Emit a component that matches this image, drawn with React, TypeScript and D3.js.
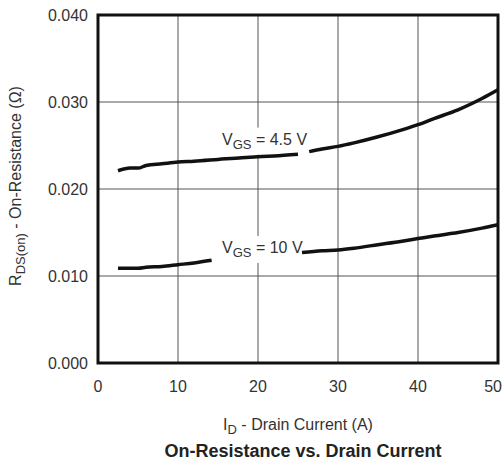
import React from "react";
import * as d3 from "d3";

const xTicks = [0, 10, 20, 30, 40, 50];
const yTicks = [0, 0.01, 0.02, 0.03, 0.04];
const yTickLabels = ["0.000", "0.010", "0.020", "0.030", "0.040"];

const idVals45 = [2.5, 4, 5, 6, 8, 10, 12, 15, 18, 20, 22, 25, 26.4, 28, 30, 32, 35, 38, 40, 42, 45, 48, 50];
const rds45 = [0.0221, 0.0224, 0.0224, 0.0227, 0.0229, 0.0231, 0.0232, 0.0234, 0.0236, 0.0237, 0.0238, 0.0240, 0.0243, 0.0246, 0.0249, 0.0253, 0.0260, 0.0268, 0.0274, 0.0281, 0.0291, 0.0304, 0.0314];
const gap45 = [25.1, 26.3];

const idVals10 = [2.5, 5, 6, 8, 10, 12, 14.2, 25.5, 28, 30, 32, 35, 38, 40, 42, 45, 48, 50];
const rds10 = [0.0109, 0.0109, 0.0110, 0.0111, 0.0113, 0.0115, 0.0118, 0.0127, 0.0129, 0.0130, 0.0132, 0.0136, 0.0140, 0.0143, 0.0146, 0.0150, 0.0155, 0.0159];
const gap10 = [14.3, 25.4];

const labels = [
  { pre: "V", sub: "GS", text: " = 4.5 V", x: 20, y: 0.0251 },
  { pre: "V", sub: "GS", text: " = 10 V", x: 20, y: 0.01264 },
];

const W = 503, H = 466;
const L = 98, R = 498, T = 15, B = 363;

export default function App() {
  const x = d3.scaleLinear().domain([0, 50]).range([L, R]);
  const y = d3.scaleLinear().domain([0, 0.04]).range([B, T]);

  const mk = (xs: number[], ys: number[], gap: number[]) => {
    const pts = xs.map((v, i) => [v, ys[i]] as [number, number]);
    const segs = [pts.filter((p) => p[0] < gap[0]), pts.filter((p) => p[0] > gap[1])];
    const line = d3.line<[number, number]>().x((d) => x(d[0])).y((d) => y(d[1])).curve(d3.curveMonotoneX);
    return segs.map((s) => line(s) as string);
  };
  const p45 = mk(idVals45, rds45, gap45);
  const p10 = mk(idVals10, rds10, gap10);

  const font = "Liberation Sans, Arial, sans-serif";
  const tc = "#333";

  return (
    <svg width={W} height={H} style={{ position: "absolute", left: 0, top: 0 }} fontFamily={font}>
      <rect x={0} y={0} width={W} height={H} fill="#fff" />
      {xTicks.slice(1, -1).map((t) => (
        <line key={"gx" + t} x1={x(t)} x2={x(t)} y1={T} y2={B} stroke="#555" strokeWidth={1} />
      ))}
      {yTicks.slice(1, -1).map((t) => (
        <line key={"gy" + t} x1={L} x2={R} y1={y(t)} y2={y(t)} stroke="#555" strokeWidth={1} />
      ))}
      {labels.map((l, i) => (
        <rect key={"lb" + i} x={x(l.x) - 38} y={y(l.y) - 17} width={88} height={27} fill="#fff" />
      ))}
      {[...p45, ...p10].map((d, i) => (
        <path key={"c" + i} d={d} fill="none" stroke="#111" strokeWidth={3.5} strokeLinecap="butt" />
      ))}
      {labels.map((l, i) => (
        <text key={"lt" + i} x={x(l.x) - 36} y={y(l.y)} fontSize={16} fill={tc}>
          {l.pre}
          <tspan fontSize={13} dy={4}>{l.sub}</tspan>
          <tspan dy={-4}>{l.text}</tspan>
        </text>
      ))}
      <rect x={L} y={T} width={R - L} height={B - T} fill="none" stroke="#111" strokeWidth={3} />
      {yTicks.map((t, i) => (
        <text key={"yt" + t} x={L - 10} y={y(t) + 6} fontSize={16} textAnchor="end" fill={tc}>
          {yTickLabels[i]}
        </text>
      ))}
      {xTicks.map((t, i) => (
        <text
          key={"xt" + t}
          x={i === xTicks.length - 1 ? 502 : x(t)}
          y={392}
          fontSize={16}
          textAnchor={i === xTicks.length - 1 ? "end" : "middle"}
          fill={tc}
        >
          {t}
        </text>
      ))}
      <text x={298} y={430} fontSize={16} textAnchor="middle" fill={tc}>
        I<tspan fontSize={13} dy={4}>D</tspan>
        <tspan dy={-4}> - Drain Current (A)</tspan>
      </text>
      <text x={303} y={457} fontSize={18} fontWeight="bold" textAnchor="middle" fill="#222">
        On-Resistance vs. Drain Current
      </text>
      <text transform={`translate(21,186) rotate(-90)`} fontSize={16} textAnchor="middle" fill={tc}>
        R<tspan fontSize={13} dy={4}>DS(on)</tspan>
        <tspan dy={-4}> - On-Resistance (Ω)</tspan>
      </text>
    </svg>
  );
}
